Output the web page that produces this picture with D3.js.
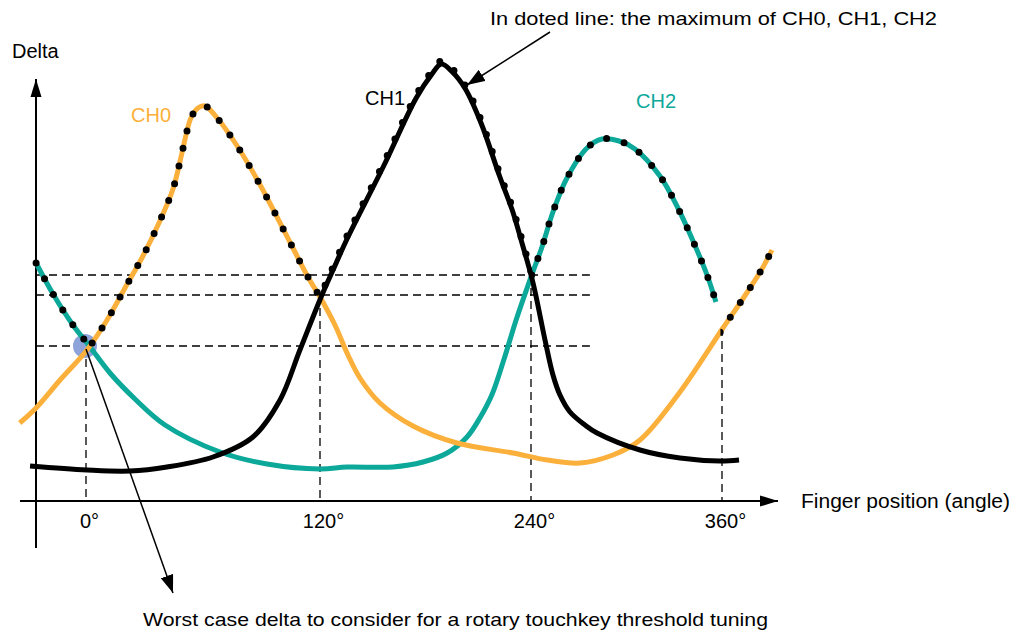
<!DOCTYPE html>
<html>
<head>
<meta charset="utf-8">
<script src="https://cdn.jsdelivr.net/npm/d3@7"></script>
<style>
  body { margin: 0; background: #fff; }
  text { font-family: "Liberation Sans", Arial, sans-serif; }
</style>
</head>
<body>
<script>
// finger angle (deg) vs delta (arbitrary units)
var tickAngles = [0, 120, 240, 360];

var ch0 = [[-34,7.8],[-25.6,9.3],[-13.3,12.1],[0.5,15.1],[10.8,18.1],[20,21.3],[29.2,24.5],
  [37.4,27.8],[44.6,31.2],[49.2,34.8],[51.3,36.6],[53.8,38.3],[57.4,39.3],[61,39.5],[67.7,38.2],
  [78.5,35.2],[88.2,32],[96.9,28.8],[105.6,25.5],[114.4,22.2],[120,20.4],[128.5,17.6],[135.9,14.6],
  [142.7,12.3],[154.1,9.8],[172.9,7.5],[197.9,5.8],[229.8,4.8],[250.1,4.1],[270.8,3.8],[291.5,4.6],
  [308.5,6.1],[333.6,10.9],[360.6,17.3],[372.6,20.1],[385.1,23.2],[391.4,25.1]];

var ch1 = [[-28.7,3.5],[0.5,3.1],[22.6,3],[41.5,3.4],[65.1,4.4],[85.6,6.4],[99.5,10.1],[109.7,15.1],
  [121.1,20.6],[127.4,23.1],[135.9,26.4],[156.2,33.5],[174.7,40.3],[183.3,42.6],[189,43.7],[195.3,42.9],
  [202.7,41.2],[211.8,37.7],[222.1,32.5],[229.5,29],[235.2,25.6],[241.3,21.8],[248.8,16.1],[253.8,12.6],
  [258.2,10.6],[264.5,8.9],[273.9,7.6],[281.5,6.8],[308.5,5.1],[333.6,4.3],[358.7,4],[370.7,4.1]];

var ch2 = [[-25.6,23.8],[-16.9,20.7],[-6.7,17.6],[2.1,15.4],[12.3,12.8],[25.1,10.2],[40.5,7.6],[68.7,4.9],
  [92.8,3.7],[120,3.2],[135.4,3.4],[161.5,3.4],[178.6,3.9],[192.3,4.8],[203.6,6.4],[210.9,8.3],
  [217.7,10.6],[224.5,14.1],[231.9,18.3],[240,22.4],[246.9,25.4],[253.8,28.9],[262.6,32.3],[275.2,35.3],
  [284.6,36.2],[295.3,36],[305.3,35.2],[321,32.5],[332.3,29.3],[341.8,26],[350.6,22.6],[356.2,19.9]];

// which channel is the maximum between these angles
var envelope = [
  {ch: "CH2", from: -40, to: 1},
  {ch: "CH0", from: 1, to: 120.8},
  {ch: "CH1", from: 120.8, to: 240.6},
  {ch: "CH2", from: 240.6, to: 358},
  {ch: "CH0", from: 359, to: 400}
];

// horizontal guide levels and where each vertical guide starts
var guideLevels = [22.6, 20.6, 15.5];
var guideTops = [15.5, 20.6, 22.6, 17.3];
var guideEnd = 277;

var series = [
  {name: "CH2", data: ch2, color: "#0ca89a"},
  {name: "CH0", data: ch0, color: "#fbb03b"},
  {name: "CH1", data: ch1, color: "#000000"}
];

var width = 1022, height = 633;
var axisLeft = 36, axisBottomEnd = 548;

var svg = d3.select("body").append("svg")
  .attr("width", width).attr("height", height);

var x = d3.scaleLinear().domain(tickAngles).range([86, 320, 531, 722]);
var y = d3.scaleLinear().domain([0, 42]).range([501, 81]);

var defs = svg.append("defs");
defs.append("marker").attr("id", "bigArrow")
  .attr("markerUnits", "userSpaceOnUse")
  .attr("viewBox", "-18 -6 18 12")
  .attr("markerWidth", 18).attr("markerHeight", 12)
  .attr("refX", 0).attr("refY", 0).attr("orient", "auto")
  .append("path").attr("d", "M0,0L-18,-5.5L-18,5.5Z").attr("fill", "#000");
defs.append("marker").attr("id", "thinArrow")
  .attr("markerUnits", "userSpaceOnUse")
  .attr("viewBox", "-18 -7 18 14")
  .attr("markerWidth", 18).attr("markerHeight", 14)
  .attr("refX", 0).attr("refY", 0).attr("orient", "auto")
  .append("path").attr("d", "M0,0L-18,-6.5L-18,6.5Z").attr("fill", "#000");

// dashed guides
var guides = svg.append("g")
  .attr("stroke", "#000").attr("stroke-width", 1.3).attr("stroke-dasharray", "8 5").attr("fill", "none");
guides.selectAll("line.h").data(guideLevels).enter().append("line")
  .attr("class", "h")
  .attr("x1", axisLeft).attr("x2", x(guideEnd))
  .attr("y1", function(d) { return y(d); }).attr("y2", function(d) { return y(d); });
guides.selectAll("line.v").data(tickAngles).enter().append("line")
  .attr("class", "v")
  .attr("x1", function(d) { return x(d); }).attr("x2", function(d) { return x(d); })
  .attr("y1", function(d, i) { return y(guideTops[i]); }).attr("y2", y(0));

// axes
svg.append("line")
  .attr("x1", 20).attr("x2", 778).attr("y1", y(0)).attr("y2", y(0))
  .attr("stroke", "#000").attr("stroke-width", 2).attr("marker-end", "url(#bigArrow)");
svg.append("line")
  .attr("x1", axisLeft).attr("x2", axisLeft).attr("y1", axisBottomEnd).attr("y2", 79)
  .attr("stroke", "#000").attr("stroke-width", 2).attr("marker-end", "url(#bigArrow)");

var xAxis = svg.append("g")
  .attr("transform", "translate(3," + y(0) + ")")
  .call(d3.axisBottom(x).tickValues(tickAngles).tickSize(0).tickPadding(13)
    .tickFormat(function(d) { return d + "°"; }));
xAxis.select(".domain").remove();
xAxis.selectAll("text")
  .attr("font-size", 20).attr("fill", "#000")
  .style("font-family", "'Liberation Sans', Arial, sans-serif");

// worst case marker
svg.append("circle")
  .attr("cx", x(0) - 1).attr("cy", y(guideLevels[2]))
  .attr("r", 12).attr("fill", "#8da3d9");

// curves
var line = d3.line()
  .x(function(d) { return x(d[0]); })
  .y(function(d) { return y(d[1]); })
  .curve(d3.curveCatmullRom.alpha(0.5));

svg.selectAll("path.curve").data(series).enter().append("path")
  .attr("class", "curve")
  .attr("d", function(d) { return line(d.data); })
  .attr("fill", "none")
  .attr("stroke", function(d) { return d.color; })
  .attr("stroke-width", 5)
  .attr("stroke-linejoin", "round");

// dotted maximum, one clipped piece per segment
var byName = {};
series.forEach(function(s) { byName[s.name] = s; });
envelope.forEach(function(seg, i) {
  defs.append("clipPath").attr("id", "env" + i)
    .append("rect")
    .attr("x", x(seg.from)).attr("width", x(seg.to) - x(seg.from))
    .attr("y", -20).attr("height", height + 40);
  svg.append("path")
    .attr("d", line(byName[seg.ch].data))
    .attr("clip-path", "url(#env" + i + ")")
    // on the black curve the dots sit just outside the line so they stay visible
    .attr("transform", seg.ch === "CH1" ? "translate(0,-3)" : null)
    .attr("fill", "none")
    .attr("stroke", "#000")
    .attr("stroke-width", 7)
    .attr("stroke-linecap", "round")
    .attr("stroke-dasharray", "0 18");
});

// annotation arrows
svg.append("line")
  .attr("x1", 550).attr("y1", 32).attr("x2", 467).attr("y2", 85)
  .attr("stroke", "#000").attr("stroke-width", 1.5).attr("marker-end", "url(#thinArrow)");
svg.append("line")
  .attr("x1", x(0)).attr("y1", y(guideLevels[2]) + 3).attr("x2", 173).attr("y2", 593)
  .attr("stroke", "#000").attr("stroke-width", 1.5).attr("marker-end", "url(#thinArrow)");

// labels
var labels = [
  {t: "Delta", x: 12, y: 58, c: "#000", s: 20},
  {t: "Finger position (angle)", x: 801, y: 508, c: "#000", s: 20, w: 209},
  {t: "In doted line: the maximum of CH0, CH1, CH2", x: 490, y: 25, c: "#000", s: 19, w: 447},
  {t: "Worst case delta to consider for a rotary touchkey threshold tuning", x: 143, y: 626, c: "#000", s: 19, w: 625},
  {t: "CH0", x: 131, y: 122, c: series[1].color, s: 20},
  {t: "CH1", x: 365, y: 105, c: "#000", s: 20},
  {t: "CH2", x: 636, y: 108, c: series[0].color, s: 20}
];
svg.selectAll("text.lbl").data(labels).enter().append("text")
  .attr("class", "lbl")
  .attr("x", function(d) { return d.x; })
  .attr("y", function(d) { return d.y; })
  .attr("fill", function(d) { return d.c; })
  .attr("font-size", function(d) { return d.s; })
  .each(function(d) {
    if (d.w) d3.select(this).attr("textLength", d.w).attr("lengthAdjust", "spacingAndGlyphs");
  })
  .text(function(d) { return d.t; });
</script>
</body>
</html>
